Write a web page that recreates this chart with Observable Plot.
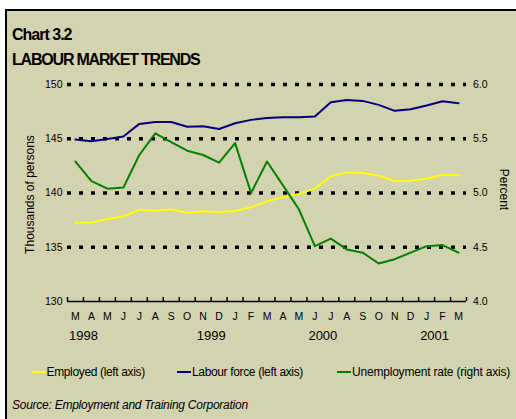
<!DOCTYPE html>
<html>
<head>
<meta charset="utf-8">
<script src="https://cdn.jsdelivr.net/npm/d3@7"></script>
<script src="https://cdn.jsdelivr.net/npm/@observablehq/plot@0.6"></script>
<style>
  body { margin: 0; background: #fff; font-family: "Liberation Sans", Arial, sans-serif; }
  #frame { position: absolute; left: 5px; top: 9px; width: 530px; height: 430px; background: #d3d3b0; border-left: 2px solid #000; border-top: 2px solid #000; }
  .abs { position: absolute; white-space: nowrap; color: #000; }
  .title { font-weight: bold; font-size: 16px; line-height: 16px; }
  .leg { font-size: 12px; line-height: 12px; letter-spacing: -0.35px; }
  .legline { position: absolute; width: 14px; height: 2px; }
  #chart { position: absolute; left: 0; top: 70px; }
  g[aria-label="year-labels"] text { letter-spacing: -1px; }
  g[aria-label="axis-title"] text { letter-spacing: -0.2px; }
</style>
</head>
<body>
<div id="frame"></div>
<div class="abs title" style="left:12px; top:26.5px; letter-spacing:-1px;">Chart 3.2</div>
<div class="abs title" style="left:12px; top:51.5px; letter-spacing:-1.2px;">LABOUR MARKET TRENDS</div>
<div id="chart"></div>
<div class="legline" style="left:32px; top:370.7px; background:#ffff00;"></div>
<div class="abs leg" style="left:46.5px; top:365.8px;">Employed (left axis)</div>
<div class="legline" style="left:177px; top:370.7px; background:#000080;"></div>
<div class="abs leg" style="left:192px; top:365.8px;">Labour force (left axis)</div>
<div class="legline" style="left:337px; top:370.7px; background:#008000;"></div>
<div class="abs leg" style="left:352px; top:365.8px; letter-spacing:-0.2px;">Unemployment rate (right axis)</div>
<div class="abs leg" style="left:12px; top:398.8px; font-style:italic; letter-spacing:-0.25px;">Source: Employment and Training Corporation</div>
<script>
const months = ["M","A","M","J","J","A","S","O","N","D","J","F","M","A","M","J","J","A","S","O","N","D","J","F","M"];
const years = ["1998","1999","2000","2001"];
const yearPos = [0.5, 8.5, 15.5, 22.5];
const employed = [137.26,137.29,137.6,137.85,138.46,138.37,138.49,138.18,138.31,138.22,138.34,138.68,139.23,139.6,139.9,140.43,141.54,141.88,141.85,141.6,141.08,141.14,141.32,141.69,141.63];
const labourForce = [144.92,144.77,144.98,145.2,146.37,146.55,146.55,146.1,146.15,145.9,146.43,146.74,146.92,146.98,146.98,147.05,148.37,148.58,148.49,148.12,147.57,147.72,148.06,148.46,148.28];
const unemploymentRate = [5.29,5.11,5.04,5.05,5.35,5.55,5.47,5.39,5.35,5.28,5.46,5.00,5.29,5.07,4.85,4.51,4.58,4.48,4.45,4.35,4.39,4.45,4.51,4.52,4.45];
const leftTicks = [130,135,140,145,150];
const rightTicks = [4.0,4.5,5.0,5.5,6.0];

// right axis (percent) mapped onto left axis (thousands)
const toLeft = r => leftTicks[0] + (r - rightTicks[0]) * (leftTicks[4] - leftTicks[0]) / (rightTicks[4] - rightTicks[0]);
const tickPos = d3.range(-0.5, months.length, 1);

const chart = Plot.plot({
  width: 516,
  height: 280,
  marginTop: 14,
  marginBottom: 49,
  marginLeft: 67,
  marginRight: 50,
  style: { background: "transparent", fontFamily: "'Liberation Sans', Arial, sans-serif", overflow: "visible", color: "#000" },
  x: { domain: [-0.5, months.length - 0.5], axis: null },
  y: { domain: [leftTicks[0], leftTicks[4]], axis: null },
  marks: [
    Plot.ruleY(leftTicks.slice(1), { stroke: "#000", strokeWidth: 3.5, strokeDasharray: "4,8" }),
    Plot.ruleY([leftTicks[0]], { stroke: "#000", strokeWidth: 1.5 }),
    Plot.ruleX(tickPos, { x: d => d, y1: leftTicks[0], y2: leftTicks[0] + 0.37, stroke: "#000", strokeWidth: 1.5 }),
    Plot.line(employed, { x: (d, i) => i, y: d => d, stroke: "#ffff00", strokeWidth: 2 }),
    Plot.line(labourForce, { x: (d, i) => i, y: d => d, stroke: "#000080", strokeWidth: 2 }),
    Plot.line(unemploymentRate, { x: (d, i) => i, y: d => toLeft(d), stroke: "#008000", strokeWidth: 2 }),
    Plot.text(leftTicks, { y: d => d, text: d => String(d), frameAnchor: "left", textAnchor: "end", dx: -5, fontSize: 10.5, fill: "#000" }),
    Plot.text(rightTicks, { y: d => toLeft(d), text: d => d.toFixed(1), frameAnchor: "right", textAnchor: "start", dx: 6.5, fontSize: 10.5, fill: "#000" }),
    Plot.text(months, { x: (d, i) => i, text: d => d, frameAnchor: "bottom", dy: 18, fontSize: 10.5, fill: "#000" }),
    Plot.text(years, { x: (d, i) => yearPos[i], text: d => d, frameAnchor: "bottom", dy: 38.3, fontSize: 13, fill: "#000", ariaLabel: "year-labels" }),
    Plot.text(["Thousands of persons"], { frameAnchor: "left", textAnchor: "middle", dx: -37, dy: 1.5, rotate: -90, fontSize: 12, fill: "#000", ariaLabel: "axis-title" }),
    Plot.text(["Percent"], { frameAnchor: "right", textAnchor: "middle", dx: 37, dy: -3.5, rotate: 90, fontSize: 12, fill: "#000", ariaLabel: "axis-title" })
  ]
});
document.getElementById("chart").appendChild(chart);
</script>
</body>
</html>
